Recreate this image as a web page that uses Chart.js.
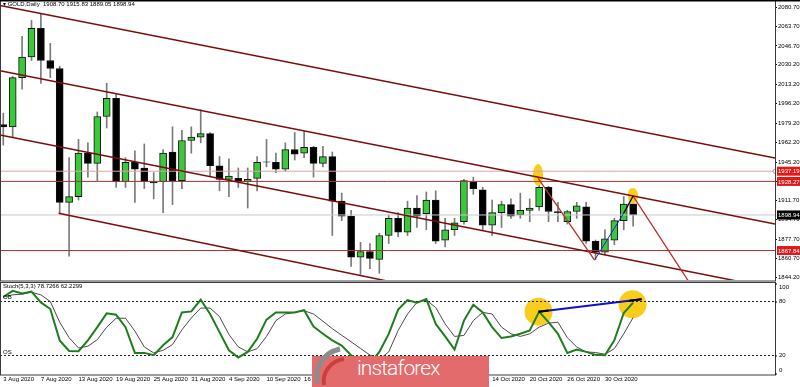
<!DOCTYPE html>
<html>
<head>
<meta charset="utf-8">
<script src="https://cdn.jsdelivr.net/npm/chart.js@4.4.0/dist/chart.umd.min.js"></script>
<style>
  body { margin: 0; background: #fff; }
  #wrap { position: relative; width: 800px; height: 387px; overflow: hidden; background: #fff; font-family: 'Liberation Sans', sans-serif; }
  #main { position: absolute; left: 0; top: 0; }
  #stoch { position: absolute; left: 0; top: 282px; }
  .lbl { position: absolute; font-size: 6px; line-height: 7px; color: #000; white-space: pre; }
  #wm { position: absolute; left: 312px; top: 356px; width: 177px; height: 31px; background: #e46b6b; }
  #wm span { position: absolute; left: 45px; top: 0; line-height: 29px; font: 300 21px Roboto, sans-serif; color: #fff; letter-spacing: -0.9px; }
  #logo { position: absolute; left: 312px; top: 343px; }
</style>
</head>
<body>
<div id="wrap">
  <canvas id="main" width="800" height="282"></canvas>
  <canvas id="stoch" width="800" height="105"></canvas>
  <div class="lbl" style="left:3px;top:1px">▾ GOLD,Daily  1908.70 1915.83 1889.05 1898.94</div>
  <div class="lbl" style="left:3px;top:283px">Stoch(5,3,3) 78.7266 62.2299</div>
  <div class="lbl" style="left:3px;top:294px">OB</div>
  <div class="lbl" style="left:3px;top:349px">OS</div>
  <div id="wm"><span>instaforex</span></div>
  <svg id="logo" width="36" height="44" viewBox="0 0 36 44">
    <path d="M6 40 C2 26 10 10 28 6" stroke="#8c8c8c" stroke-width="5" fill="none"/>
    <path d="M12 42 C10 30 18 18 32 16" stroke="#c94040" stroke-width="4" fill="none"/>
  </svg>
</div>
<script>
// daily candles
const opens  = [1978,1976,2019,2037,2062,2034,2027,1910,1915,1953, 1944,1985,2001,1928,1945,1940,1928,1928,1954,1929,
                1964,1967,1970,1942,1930,1931,1928,1931,1945.5,1945, 1939,1956,1953,1958,1944,1950,1911,1898,1862,1867,
                1860,1881,1896,1884,1905,1900,1912,1877,1886,1893, 1928,1921,1890,1901,1908,1899,1903,1906,1923,1902,
                1893,1902,1906,1876,1866.5,1877,1894,1908.7];
const highs  = [1988,2020,2055,2069,2075,2049,2029,1949,1965,1962, 1989,2014,2005,1949,1955,1961,1936,1956,1976,1973,
                1976,1991,1971,1950,1948,1940,1940,1950,1965,1953, 1962,1971,1972,1959,1959,1954,1918,1903,1875,1874,
                1883,1899,1901,1911,1916,1919,1920,1896,1896,1930, 1932,1923,1912,1911,1913,1918,1913,1928,1924,1910,
                1903,1910,1910,1877,1886,1896,1915,1915.83];
const lows   = [1960,1967,2009,2034,2014,2019,1900,1863,1912,1932, 1929,1975,1923,1923,1910,1922,1913,1901,1908,1922,
                1953,1962,1933,1920,1915,1923,1905,1920,1941,1936, 1937,1947,1949,1932,1941,1881,1894,1854,1847,1852,
                1848,1874,1880,1881,1888,1886,1874,1871,1881,1891, 1917,1886,1881,1888,1896,1896,1893,1903,1893,1893,
                1891,1896,1874,1860,1864,1873,1886,1889.05];
const closes = [1976,2019,2037,2062,2034,2027,1910,1915,1953,1944, 1985,2001,1928,1945,1939,1928,1927,1953,1929,1964,
                1967,1970,1942,1930,1933,1928,1930,1945,1945,1939, 1956,1952,1958,1944,1950,1911,1898,1862,1867,1861,
                1881,1896,1884,1905,1898,1912,1876,1886,1892,1929, 1922,1890,1901,1908,1898,1903,1905,1923,1902,1901,
                1902,1907,1876,1866.5,1878,1894,1908.5,1898.94];

const dateTicks  = [0,4,8,12,16,20,24,28,32,36,40,44,48,52,56,60,64];
const dateLabels = ['3 Aug 2020','7 Aug 2020','13 Aug 2020','19 Aug 2020','25 Aug 2020','31 Aug 2020','4 Sep 2020',
                    '10 Sep 2020','16 Sep 2020','22 Sep 2020','28 Sep 2020','2 Oct 2020','8 Oct 2020','14 Oct 2020',
                    '20 Oct 2020','26 Oct 2020','30 Oct 2020'];
const priceTicks = [2080.70,2063.70,2046.70,2030.20,2013.20,1996.20,1979.20,1962.20,1945.20,1928.20,
                    1911.70,1894.70,1877.70,1860.70,1844.20];
const levelLines = [1937.19, 1928.27, 1867.84];
const lastPrice  = 1898.94;

// Stochastic(5,3,3)
const stochK = [85,91.8,88.8,91,79,71.6,36.8,25.1,24.7,36.8, 51.5,66.8,65.4,51.5,22.9,22.9,20.3,31.3,40.5,67.9,
                69,81.9,66.1,46,25.8,17.8,24,38.6,59.9,67.9, 67.9,67.9,70.4,52.2,44.1,36.8,31,20.3,13,11,
                24,44,71,81.5,78.6,82.6,55.1,41.2,26.6,58.8, 76.4,67.9,51.5,39.4,41.2,44.1,47.8,68.7,57,44.1,
                22.9,26.6,24,20.7,20.3,36.8,67.2,78.73];
const stochD = [85.1,87.4,88.1,90.3,87.4,80,57,39.8,28.4,30.3, 37.6,51.5,61.4,61.4,47.1,29.5,22.9,25.8,32.1,48.5,
                61.7,72.7,72.7,63.2,43.4,29.5,24,27.6,41.2,58.8, 66.1,67.9,69.7,66.1,58.1,49.8,42.5,35.2,27.8,20.5,
                15.8,24,47.8,66.1,78.9,81.5,73.3,55.1,41.2,42.3, 58.8,67.9,66.1,51.5,44.1,41.2,44.1,51.5,55.9,57,
                39.8,29.5,24,23.3,21.4,27.6,44.1,62.23];
const stochLevels = [80, 20];
const stochTicks  = [100, 80, 20, 0];

// drawn objects, in (bar index, value)
const channelA   = [[-0.35, 2082.0], [82.09, 1948.7]];
const channelB   = [[-0.35, 2025.0], [82.09, 1891.0]];
const channelC   = [[-0.35, 1968.8], [82.09, 1834.6]];
const channelD   = [[5.89, 1900.4], [82.09, 1771.3]];
const swingDown  = [[56.9, 1931.0], [62.9, 1859.5]];
const swingUp    = [[62.9, 1859.5], [66.0, 1900.6]];
const swingTop   = [[66.0, 1900.6], [67.0, 1915.5]];
const swingNext  = [[67.0, 1915.5], [73.5, 1833.3]];
const markPrice  = [[56.88, 1933.9], [66.94, 1915.9]];
const markStoch  = [[56.94, 68.7], [66.94, 76.9]];
const divergence = [[56.94, 68.7], [67.9, 82.6]];
const divEnds    = [[[56.94, 68.7], [58.0, 70.0]], [[66.6, 80.95], [67.9, 82.6]]];

const X_MIN = -0.35, X_MAX = 82.09;
const pts = a => a.map(([x, y]) => ({ x, y }));
const flat = v => [{ x: X_MIN, y: v }, { x: X_MAX, y: v }];
const line = (data, color, width, order, extra) => Object.assign({
  type: 'line', data, borderColor: color, borderWidth: width, pointRadius: 0, order
}, extra || {});

function blob(w, h) {
  const c = document.createElement('canvas');
  c.width = w; c.height = h;
  const g = c.getContext('2d');
  g.fillStyle = '#f9cd1b';
  g.beginPath();
  g.ellipse(w / 2, h / 2, w / 2, h / 2, 0, 0, Math.PI * 2);
  g.fill();
  return c;
}

const frame = {
  id: 'frame',
  afterDraw(chart) {
    const { ctx, chartArea: a } = chart;
    ctx.save();
    ctx.strokeStyle = '#3c3c3c';
    ctx.lineWidth = 1;
    ctx.strokeRect(a.left + 0.5, 0.5, a.right - a.left, Math.round(a.bottom) + 0.5);
    ctx.restore();
  }
};

const priceTags = {
  id: 'priceTags',
  afterDraw(chart) {
    const { ctx, scales: { y } } = chart;
    const tags = levelLines.map(v => [v, '#e01818']).concat([[lastPrice, '#000']]);
    ctx.save();
    ctx.font = '6px "Liberation Sans"';
    ctx.textBaseline = 'middle';
    tags.forEach(([v, c]) => {
      const py = y.getPixelForValue(v);
      ctx.fillStyle = c;
      ctx.fillRect(777, py - 4.5, 23, 9);
      ctx.fillStyle = '#fff';
      ctx.fillText(v.toFixed(2), 778, py + 0.5);
    });
    ctx.fillStyle = '#000';
    ctx.fillRect(0, 0, 800, 1.5);
    ctx.restore();
  }
};

const stochAxis = {
  id: 'stochAxis',
  afterDraw(chart) {
    const { ctx, chartArea: a, scales: { y } } = chart;
    ctx.save();
    ctx.font = '6px "Liberation Sans"';
    ctx.textBaseline = 'middle';
    ctx.fillStyle = '#000';
    stochTicks.forEach(v => {
      const py = y.getPixelForValue(v);
      const ty = Math.min(Math.max(py, a.top + 4), a.bottom - 4);
      ctx.fillRect(a.right, py, 2, 1);
      ctx.fillText(String(v), 779, ty);
    });
    ctx.restore();
  }
};

Chart.defaults.font.family = '"Liberation Sans", sans-serif';
Chart.defaults.font.size = 6;
Chart.defaults.color = '#000';

new Chart(document.getElementById('main'), {
  type: 'bar',
  data: {
    datasets: [
      { data: opens.map((o, i) => ({ x: i, y: [lows[i], highs[i]] })), backgroundColor: '#7a7a7a',
        barThickness: 1, grouped: false, order: 10 },
      { data: opens.map((o, i) => ({ x: i, y: [o, closes[i]] })),
        backgroundColor: opens.map((o, i) => closes[i] >= o ? '#3cc83c' : '#000'),
        borderColor: '#111', borderWidth: 1, borderSkipped: false, barThickness: 7, grouped: false, order: 9 },
      line(pts(markPrice), 'transparent', 0, 8, { showLine: false, pointRadius: 5,
        pointStyle: [blob(10, 22), blob(10, 16)] }),
      line(flat(lastPrice), '#c8c8c8', 1, 7),
      ...levelLines.map((v, i) => line(flat(v), i === 0 ? '#dca4a4' : '#a83434', 1, 6,
        i === 0 ? { pointRadius: [0, 2], pointBorderColor: '#d08080', pointBackgroundColor: '#fff', pointBorderWidth: 1 } : {})),
      ...[channelA, channelB, channelC, channelD].map(c => line(pts(c), '#7a0c0c', 1.5, 5)),
      line(pts(swingDown), '#c0302a', 1.3, 4),
      line(pts(swingUp), '#1a24d8', 1, 4),
      line(pts(swingTop), '#000', 1.3, 4),
      line(pts(swingNext), '#c0302a', 1.3, 4)
    ]
  },
  options: {
    responsive: false,
    animation: false,
    layout: { autoPadding: false, padding: { top: 2, bottom: 2, left: 0, right: 0 } },
    plugins: { legend: { display: false }, tooltip: { enabled: false } },
    scales: {
      x: { type: 'linear', min: X_MIN, max: X_MAX, offset: false, display: false },
      y: {
        position: 'right', min: 1842.1, max: 2085.1,
        afterFit: s => { s.width = 25; s.paddingTop = 0; s.paddingBottom = 0; },
        afterBuildTicks: s => { s.ticks = priceTicks.map(v => ({ value: v })); },
        ticks: { callback: v => v.toFixed(2), padding: 1, autoSkip: false, font: { size: 6 } },
        grid: { drawOnChartArea: false, tickLength: 2, tickColor: '#000' },
        border: { display: true, color: '#3c3c3c' }
      }
    }
  },
  plugins: [frame, priceTags]
});

new Chart(document.getElementById('stoch'), {
  type: 'line',
  data: {
    datasets: [
      line(pts(markStoch), 'transparent', 0, 9, { showLine: false, pointRadius: 14,
        pointBackgroundColor: '#f9cd1b', pointBorderWidth: 0 }),
      ...stochLevels.map(v => line(flat(v), '#222', 1, 8, { borderDash: [2, 2] })),
      line(stochD.map((y, x) => ({ x, y })), '#4a4a4a', 1, 7),
      line(stochK.map((y, x) => ({ x, y })), '#1f7d1f', 2, 6),
      line(pts(divergence), '#1010c8', 2, 5),
      ...divEnds.map(d => line(pts(d), '#000', 2, 4))
    ]
  },
  options: {
    responsive: false,
    animation: false,
    layout: { autoPadding: false, padding: { top: 1, bottom: 0, left: 0, right: 0 } },
    plugins: { legend: { display: false }, tooltip: { enabled: false } },
    scales: {
      x: {
        type: 'linear', min: X_MIN, max: X_MAX, offset: false,
        afterFit: s => { s.height = 13; s.paddingLeft = 0; s.paddingRight = 0; },
        afterBuildTicks: s => { s.ticks = dateTicks.map(v => ({ value: v })); },
        ticks: { callback: (v, i) => dateLabels[i], align: 'start', autoSkip: false, maxRotation: 0, padding: 2, font: { size: 6 } },
        grid: { display: false, drawTicks: false },
        border: { display: false }
      },
      y: {
        position: 'right', min: -0.55, max: 100.55,
        afterFit: s => { s.width = 25; s.paddingTop = 0; s.paddingBottom = 0; },
        ticks: { display: false },
        grid: { display: false },
        border: { display: true, color: '#3c3c3c' }
      }
    }
  },
  plugins: [frame, stochAxis]
});
</script>
</body>
</html>
